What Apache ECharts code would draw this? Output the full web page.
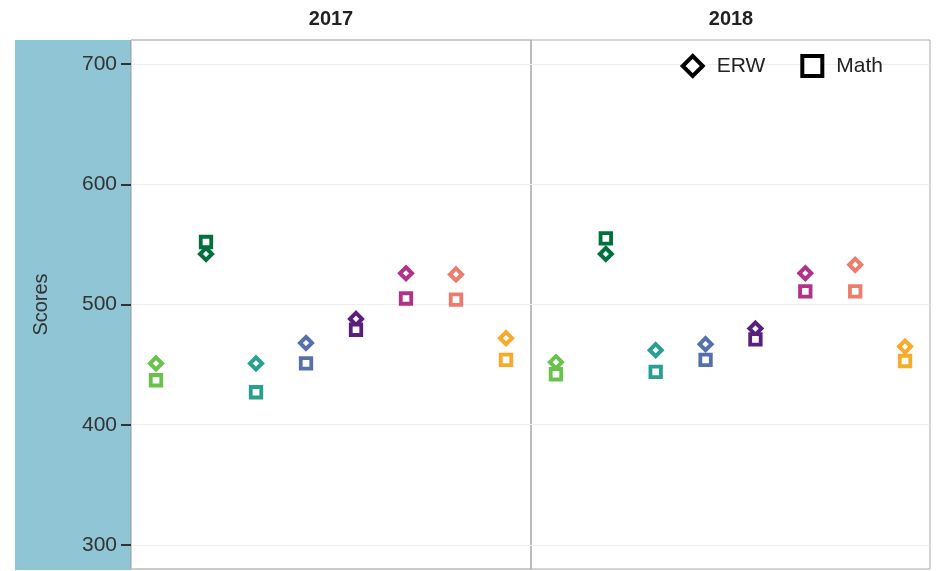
<!DOCTYPE html>
<html>
<head>
<meta charset="utf-8">
<script src="https://cdn.jsdelivr.net/npm/echarts@6/dist/echarts.min.js"></script>
<style>
  html, body { margin: 0; padding: 0; background: #fff; }
  #chart { width: 938px; height: 571px; }
</style>
</head>
<body>
<div id="chart"></div>
<script>
// 8 groups per year panel, each with an ERW (diamond) and a Math (square) score
const groups = ['G1', 'G2', 'G3', 'G4', 'G5', 'G6', 'G7', 'G8'];
const groupColors = ['#69c24c', '#00703c', '#27a092', '#5571ad', '#5b1f7b', '#b13289', '#ef7b6c', '#f9ab28'];
const years = ['2017', '2018'];

const erw2017 = [451, 542, 451, 468, 488, 526, 525, 472];
const math2017 = [437, 552, 427, 451, 479, 505, 504, 454];
const erw2018 = [452, 542, 462, 467, 480, 526, 533, 465];
const math2018 = [442, 555, 444, 454, 471, 511, 511, 453];

const yTicks = [300, 400, 500, 600, 700];

function colored(values) {
    return values.map((v, i) => ({
        value: v,
        itemStyle: { color: '#fff', borderColor: groupColors[i], opacity: 1 }
    }));
}

const chart = echarts.init(document.getElementById('chart'));
const font = 'Liberation Sans, Arial, sans-serif';

const option = {
    animation: false,
    textStyle: { fontFamily: font },
    graphic: [
        {
            type: 'rect',
            z: -100,
            shape: { x: 15, y: 40, width: 116, height: 530 },
            style: { fill: '#8fc5d4' }
        },
        {
            type: 'text',
            x: 331, y: 19,
            style: { text: years[0], fontSize: 20, fontWeight: 'bold', fill: '#222',
                     align: 'center', verticalAlign: 'middle', fontFamily: font }
        },
        {
            type: 'text',
            x: 731, y: 19,
            style: { text: years[1], fontSize: 20, fontWeight: 'bold', fill: '#222',
                     align: 'center', verticalAlign: 'middle', fontFamily: font }
        }
    ],
    legend: {
        right: 50,
        top: 49,
        itemGap: 35,
        itemWidth: 20,
        itemHeight: 20,
        textStyle: { fontSize: 21, color: '#222', padding: [0, 0, 0, 9] },
        data: [
            { name: 'ERW', icon: 'diamond', itemStyle: { color: '#fff', borderColor: '#000', borderWidth: 4, opacity: 1 } },
            { name: 'Math', icon: 'rect', itemStyle: { color: '#fff', borderColor: '#000', borderWidth: 4, opacity: 1 } }
        ]
    },
    grid: [
        { left: 131, top: 40, width: 400, height: 529, show: true, borderColor: '#999', borderWidth: 1 },
        { left: 531, top: 40, width: 399, height: 529, show: true, borderColor: '#aaa', borderWidth: 1 }
    ],
    xAxis: years.map((y, i) => ({
        type: 'category',
        gridIndex: i,
        data: groups,
        boundaryGap: true,
        axisLine: { show: false },
        axisTick: { show: false },
        axisLabel: { show: false },
        splitLine: { show: false }
    })),
    yAxis: [
        {
            type: 'value',
            gridIndex: 0,
            min: 280,
            max: 720,
            name: 'Scores',
            nameLocation: 'middle',
            nameRotate: 90,
            nameGap: 80,
            nameTextStyle: { fontSize: 20, color: '#333' },
            axisLine: { show: true, lineStyle: { color: '#ccc' } },
            axisTick: { show: true, customValues: yTicks, length: 10, lineStyle: { color: '#333', width: 2 } },
            axisLabel: { customValues: yTicks, fontSize: 21, color: '#333', margin: 14 },
            splitLine: { show: true, lineStyle: { color: '#eee', width: 1 } }
        },
        {
            type: 'value',
            gridIndex: 1,
            min: 280,
            max: 720,
            axisLine: { show: false },
            axisTick: { show: false, customValues: yTicks },
            axisLabel: { show: false, customValues: yTicks },
            splitLine: { show: true, lineStyle: { color: '#eee', width: 1 } }
        }
    ],
    series: [
        { name: 'ERW', type: 'scatter', xAxisIndex: 0, yAxisIndex: 0, symbol: 'diamond', symbolSize: 12,
          itemStyle: { borderWidth: 4, opacity: 1 }, data: colored(erw2017) },
        { name: 'Math', type: 'scatter', xAxisIndex: 0, yAxisIndex: 0, symbol: 'rect', symbolSize: 10.5,
          itemStyle: { borderWidth: 3.8, opacity: 1 }, data: colored(math2017) },
        { name: 'ERW', type: 'scatter', xAxisIndex: 1, yAxisIndex: 1, symbol: 'diamond', symbolSize: 12,
          itemStyle: { borderWidth: 4, opacity: 1 }, data: colored(erw2018) },
        { name: 'Math', type: 'scatter', xAxisIndex: 1, yAxisIndex: 1, symbol: 'rect', symbolSize: 10.5,
          itemStyle: { borderWidth: 3.8, opacity: 1 }, data: colored(math2018) }
    ]
};

chart.setOption(option);
</script>
</body>
</html>
